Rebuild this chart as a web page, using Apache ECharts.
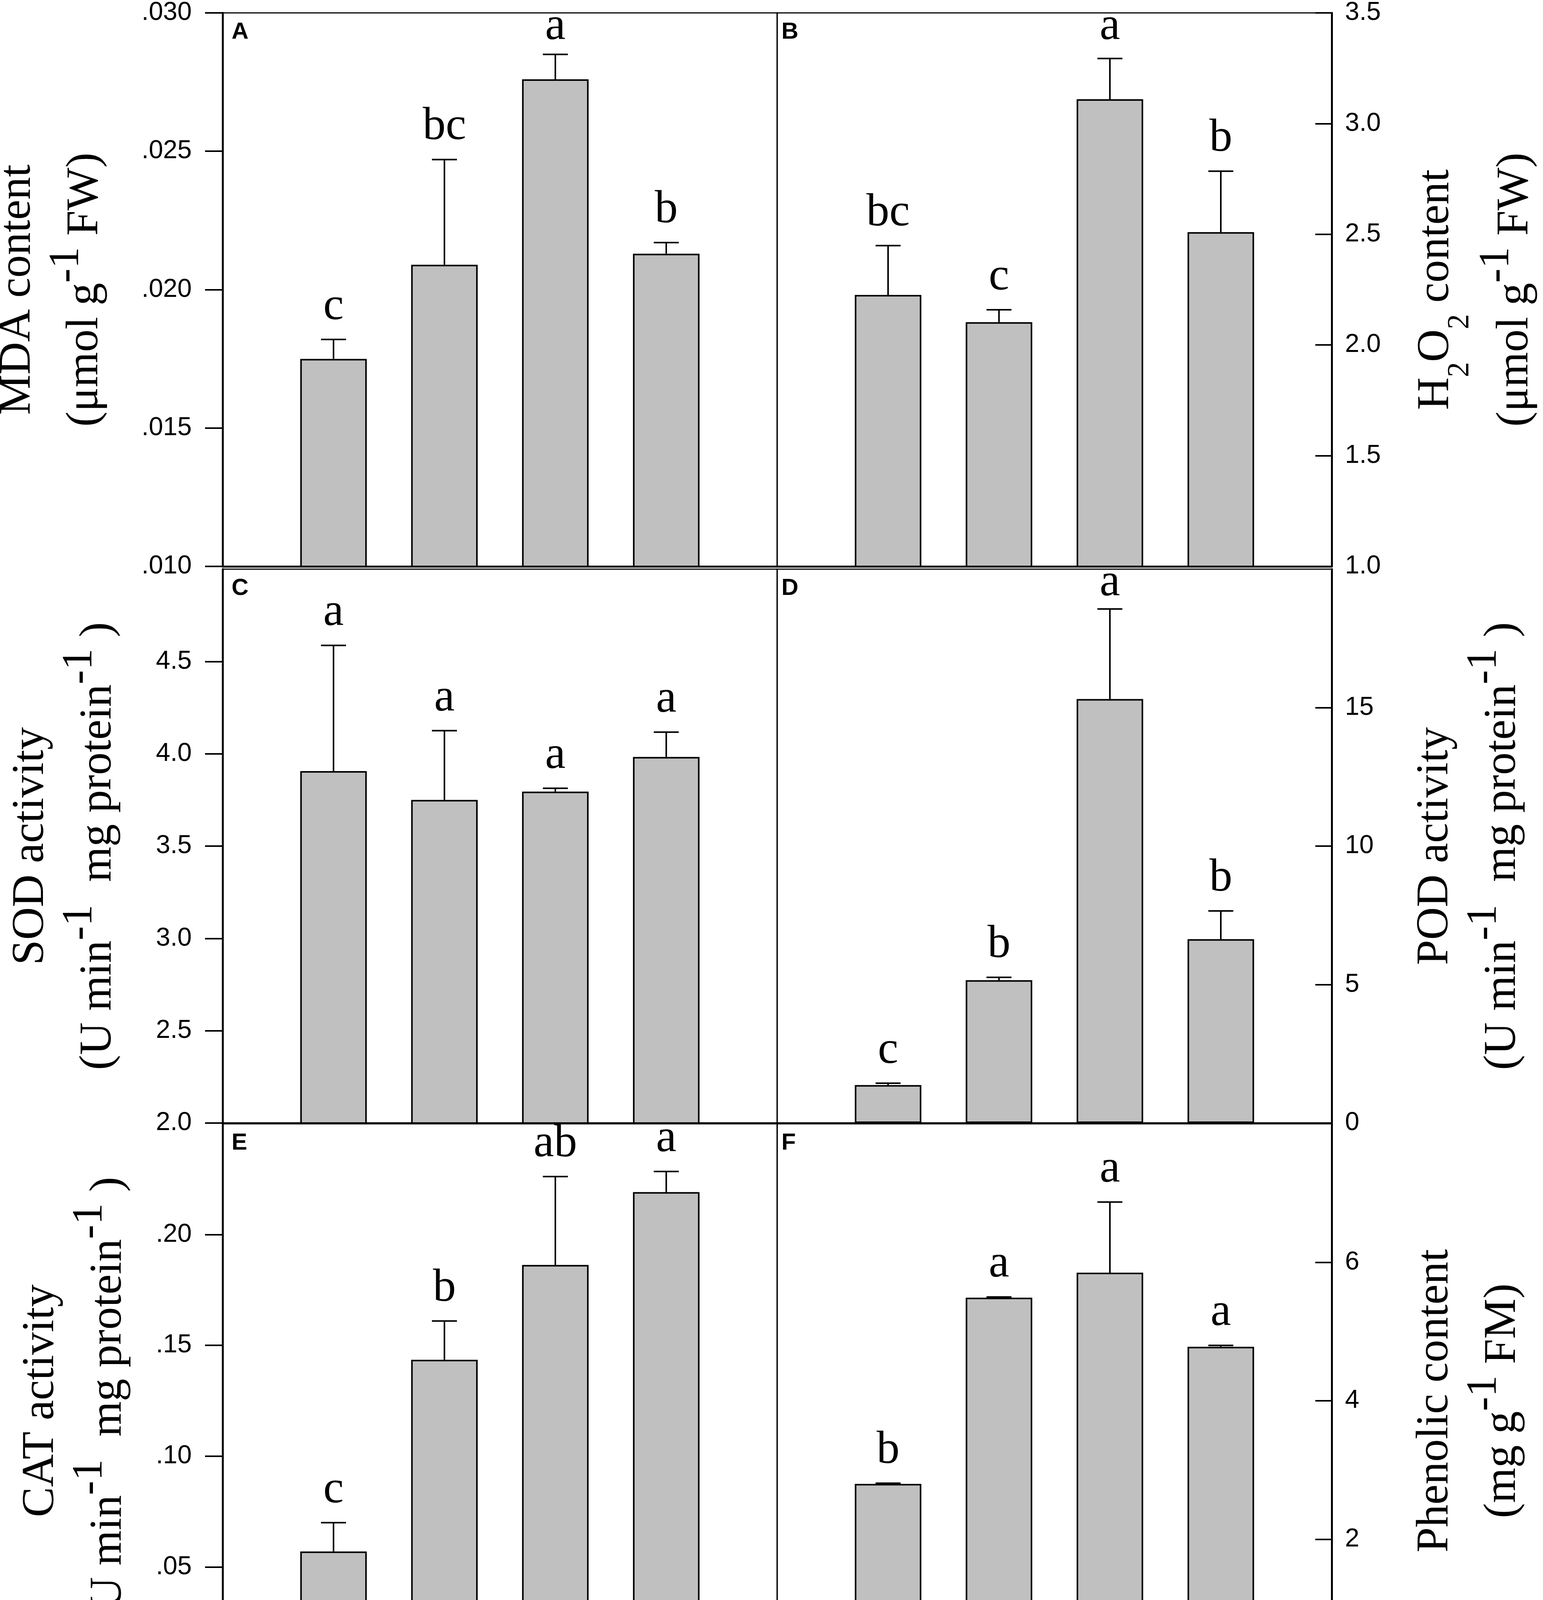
<!DOCTYPE html>
<html>
<head>
<meta charset="utf-8">
<script src="https://cdn.jsdelivr.net/npm/echarts@6/dist/echarts.min.js"></script>
<style>html,body{margin:0;padding:0;background:#fff}#c{width:3951px;height:4494px}</style>
</head>
<body>
<div id="c"></div>
<script>
// ---------- data ----------
const categories = ['WL', 'BL', 'GL', 'RL'];

const mdaMean = [0.0175, 0.0209, 0.0276, 0.0213];
const mdaSE = [0.0007, 0.0038, 0.0009, 0.0004];
const mdaLetters = ['c', 'bc', 'a', 'b'];
const mdaTicks = [0.010, 0.030, 0.005];

const h2o2Mean = [2.226, 2.103, 3.110, 2.510];
const h2o2SE = [0.223, 0.056, 0.184, 0.275];
const h2o2Letters = ['bc', 'c', 'a', 'b'];
const h2o2Ticks = [1.0, 3.5, 0.5];

const sodMean = [3.906, 3.750, 3.795, 3.983];
const sodSE = [0.681, 0.375, 0.018, 0.134];
const sodLetters = ['a', 'a', 'a', 'a'];
const sodTicks = [2.0, 5.0, 0.5];

const podMean = [1.37, 5.16, 15.31, 6.64];
const podSE = [0.07, 0.10, 3.25, 1.02];
const podLetters = ['c', 'b', 'a', 'b'];
const podTicks = [0, 20, 5];

const catMean = [0.0570, 0.1435, 0.1863, 0.2192];
const catSE = [0.0130, 0.0175, 0.0399, 0.0093];
const catLetters = ['c', 'b', 'ab', 'a'];
const catTicks = [0, 0.25, 0.05];

const phenMean = [2.80, 5.49, 5.85, 4.78];
const phenSE = [0.01, 0.01, 1.02, 0.02];
const phenLetters = ['b', 'a', 'a', 'a'];
const phenTicks = [0, 8, 2];

// ---------- layout / style ----------
const SERIF = "'Liberation Serif','Times New Roman',serif";
const SANS = "'Liberation Sans',Arial,sans-serif";
const rows = [{top: 33, height: 1417}, {top: 1457, height: 1418}, {top: 2877, height: 1418}];
const cols = [{left: 570, width: 1420}, {left: 1990, width: 1420}];

const rich = {
  a: {fontFamily: SERIF, fontSize: 116, lineHeight: 140, color: '#000'},
  a2: {fontFamily: SERIF, fontSize: 116, lineHeight: 200, color: '#000'},
  b: {fontFamily: SERIF, fontSize: 116, lineHeight: 206, color: '#000'},
  sup: {fontFamily: SERIF, fontSize: 110, lineHeight: 126, verticalAlign: 'top', color: '#000'},
  sub: {fontFamily: SERIF, fontSize: 78, lineHeight: 118, verticalAlign: 'bottom', color: '#000'}
};

const dropLead = s => s.replace(/^0\./, '.');
const panels = [
  {tag: 'A', mean: mdaMean, se: mdaSE, letters: mdaLetters, ticks: mdaTicks, row: 0, col: 0,
   fmt: v => dropLead(v.toFixed(3)), gap: 248,
   name: '{a|MDA content}\n{b|(μmol g}{sup|-1}{b| FW)}'},
  {tag: 'B', mean: h2o2Mean, se: h2o2SE, letters: h2o2Letters, ticks: h2o2Ticks, row: 0, col: 1,
   fmt: v => v.toFixed(1), gap: 168,
   name: '{a2|H}{sub|2}{a2|O}{sub|2}{a2| content}\n{b|(μmol g}{sup|-1}{b| FW)}'},
  {tag: 'C', mean: sodMean, se: sodSE, letters: sodLetters, ticks: sodTicks, row: 1, col: 0,
   fmt: v => v.toFixed(1), gap: 214,
   name: '{a|SOD activity}\n{b|(U min}{sup|-1}{b|  mg protein}{sup|-1}{b| )}'},
  {tag: 'D', mean: podMean, se: podSE, letters: podLetters, ticks: podTicks, row: 1, col: 1,
   fmt: v => String(Math.round(v)), gap: 196,
   name: '{a|POD activity}\n{b|(U min}{sup|-1}{b|  mg protein}{sup|-1}{b| )}'},
  {tag: 'E', mean: catMean, se: catSE, letters: catLetters, ticks: catTicks, row: 2, col: 0,
   fmt: v => (Math.abs(v) < 1e-9 ? '0.00' : dropLead(v.toFixed(2))), gap: 188,
   name: '{a|CAT activity}\n{b|(U min}{sup|-1}{b|  mg protein}{sup|-1}{b| )}'},
  {tag: 'F', mean: phenMean, se: phenSE, letters: phenLetters, ticks: phenTicks, row: 2, col: 1,
   fmt: v => String(Math.round(v)), gap: 196,
   name: '{a|Phenolic content}\n{b|(mg g}{sup|-1}{b| FM)}'}
];

const xData = [''].concat(categories).concat([' ']);

const grid = [], xAxis = [], yAxis = [], series = [], graphic = [];
panels.forEach((p, i) => {
  const r = rows[p.row], c = cols[p.col];
  const right = p.col === 1;
  grid.push({left: c.left, top: r.top, width: c.width, height: r.height,
    show: true, borderColor: '#000', borderWidth: 3, backgroundColor: 'transparent',
    containLabel: false, outerBoundsMode: 'none'});
  const bottomRow = p.row === 2;
  xAxis.push({gridIndex: i, type: 'category', data: xData, boundaryGap: false,
    axisLine: {show: true, onZero: false, lineStyle: {color: '#000', width: 5}},
    axisTick: {show: bottomRow, interval: idx => idx >= 1 && idx <= 4, length: 32,
               lineStyle: {color: '#000', width: 4}},
    axisLabel: {show: bottomRow, interval: 0, margin: 88, color: '#000',
                fontFamily: SERIF, fontSize: 116},
    splitLine: {show: false}, axisPointer: {show: false}});
  yAxis.push({gridIndex: i, type: 'value', position: right ? 'right' : 'left',
    min: p.ticks[0], max: p.ticks[1], interval: p.ticks[2],
    axisLine: {show: true, onZero: false, lineStyle: {color: '#000', width: 5}},
    axisTick: {show: true, inside: right, length: right ? 42 : 45, lineStyle: {color: '#000', width: 4}},
    axisLabel: {margin: right ? 34 : 79, formatter: p.fmt, color: '#000',
                fontFamily: SANS, fontSize: 66,
                showMaxLabel: p.row === 0, showMinLabel: true},
    splitLine: {show: false},
    name: p.name, nameLocation: 'middle', nameRotate: 90, nameGap: p.gap,
    nameMoveOverlap: false,
    nameTextStyle: {color: '#000', fontFamily: SERIF, fontSize: 116, rich: rich}});
  series.push({type: 'bar', xAxisIndex: i, yAxisIndex: i, barWidth: '60%',
    data: p.mean.map((v, k) => [k + 1, v]),
    itemStyle: {color: '#C0C0C0', borderColor: '#000', borderWidth: 4},
    emphasis: {disabled: true}, silent: true, z: 2});
  series.push({type: 'custom', xAxisIndex: i, yAxisIndex: i, z: 3, silent: true,
    data: p.mean.map((v, k) => [k + 1, v, p.se[k]]),
    renderItem: (params, api) => {
      const x = api.value(0), v = api.value(1), e = api.value(2);
      const p0 = api.coord([x, v]);
      const p1 = api.coord([x, v + e]);
      const topY = api.coord([x, p.ticks[1]])[1];
      const hw = 32;
      const textY = Math.max(p1[1] - 24, topY + 95);
      return {type: 'group', children: [
        {type: 'line', shape: {x1: p0[0], y1: p0[1], x2: p1[0], y2: p1[1]},
         style: {stroke: '#000', lineWidth: 4}},
        {type: 'line', shape: {x1: p1[0] - hw, y1: p1[1], x2: p1[0] + hw, y2: p1[1]},
         style: {stroke: '#000', lineWidth: 4}},
        {type: 'text', x: p1[0], y: textY,
         style: {text: p.letters[params.dataIndex], fill: '#000', align: 'center',
                 verticalAlign: 'bottom', fontFamily: SERIF, fontSize: 118}}
      ]};
    }});
  graphic.push({type: 'text', left: c.left + (right ? 11 : 23), top: r.top + 19,
    style: {text: p.tag, fill: '#000', font: 'bold 60px ' + SANS}});
});

const chart = echarts.init(document.getElementById('c'), null, {renderer: 'canvas'});
chart.setOption({
  animation: false,
  backgroundColor: '#fff',
  grid: grid, xAxis: xAxis, yAxis: yAxis, series: series, graphic: graphic
});
</script>
</body>
</html>
